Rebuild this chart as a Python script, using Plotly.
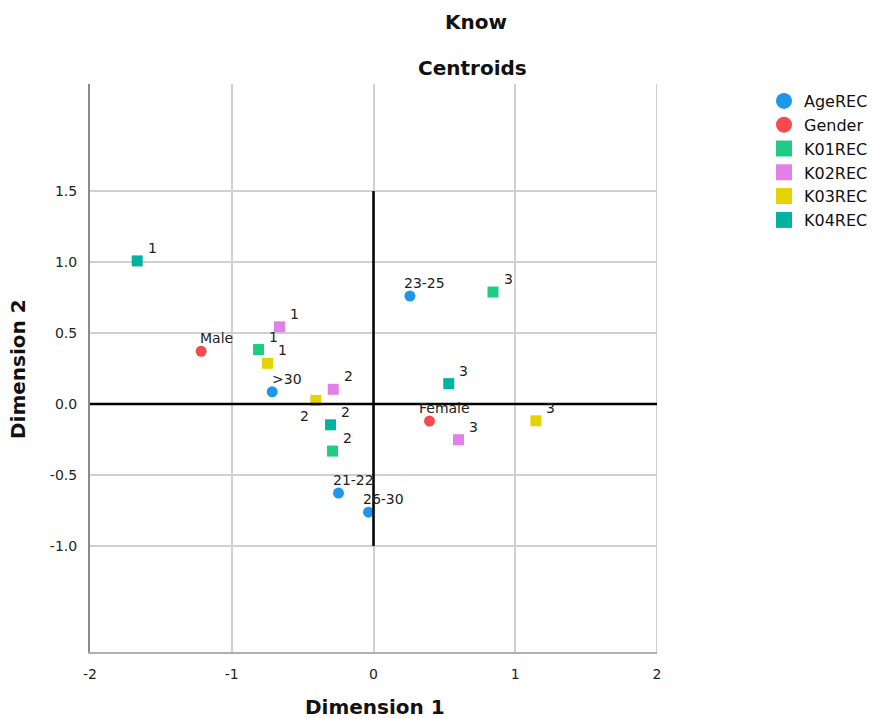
import plotly.graph_objects as go

# ---- data (centroid coordinates) ----
age_labels = [">30", "23-25", "21-22", "26-30"]
age_x = [-0.715, 0.257, -0.247, -0.035]
age_y = [0.086, 0.761, -0.627, -0.761]

gender_labels = ["Male", "Female"]
gender_x = [-1.216, 0.395]
gender_y = [0.372, -0.120]

k01_labels = ["1", "2", "3"]
k01_x = [-0.811, -0.289, 0.843]
k01_y = [0.384, -0.331, 0.789]

k02_labels = ["1", "2", "3"]
k02_x = [-0.663, -0.284, 0.600]
k02_y = [0.544, 0.104, -0.251]

k03_labels = ["1", "2", "3"]
k03_x = [-0.748, -0.407, 1.146]
k03_y = [0.287, 0.026, -0.118]

k04_labels = ["1", "2", "3"]
k04_x = [-1.667, -0.303, 0.531]
k04_y = [1.008, -0.146, 0.144]

x_ticks = [-2, -1, 0, 1, 2]
y_ticks = [-1.0, -0.5, 0.0, 0.5, 1.0, 1.5]

# ---- styling ----
series = [
    ("AgeREC", age_x, age_y, age_labels, "circle", "#1e96ea"),
    ("Gender", gender_x, gender_y, gender_labels, "circle", "#f74a4c"),
    ("K01REC", k01_x, k01_y, k01_labels, "square", "#20cb84"),
    ("K02REC", k02_x, k02_y, k02_labels, "square", "#e280e6"),
    ("K03REC", k03_x, k03_y, k03_labels, "square", "#e5d200"),
    ("K04REC", k04_x, k04_y, k04_labels, "square", "#00b3a1"),
]

FONT = "DejaVu Sans"

fig = go.Figure()
annotations = []
for name, xs, ys, labels, sym, col in series:
    fig.add_trace(go.Scatter(
        x=xs, y=ys, mode="markers", name=name, showlegend=False,
        marker=dict(symbol=sym, size=11, color=col, line=dict(width=0)),
        hoverinfo="text", text=labels,
    ))
    # legend-only entry with larger symbol
    fig.add_trace(go.Scatter(
        x=[None], y=[None], mode="markers", name=name, showlegend=True,
        marker=dict(symbol=sym, size=18 if sym == "circle" else 16, color=col),
    ))
    for xv, yv, lab in zip(xs, ys, labels):
        # default label offset: upper right of the point
        xs_, ys_ = 15, 13
        if name == "K03REC" and lab == "2":
            xs_, ys_ = -11, -16
        annotations.append(dict(
            x=xv, y=yv, xref="x", yref="y", text=lab, showarrow=False,
            xshift=xs_, yshift=ys_, xanchor="center", yanchor="middle",
            font=dict(family=FONT, size=14, color="#222222"),
        ))

# titles
annotations += [
    dict(text="<b>Know</b>", x=(476 - 90) / 567, y=1, xref="paper", yref="paper",
         yshift=62, showarrow=False, xanchor="center", yanchor="middle",
         font=dict(family=FONT, size=20, color="#111111")),
    dict(text="<b>Centroids</b>", x=(472 - 90) / 567, y=1, xref="paper", yref="paper",
         yshift=16, showarrow=False, xanchor="center", yanchor="middle",
         font=dict(family=FONT, size=20, color="#111111")),
    dict(text="<b>Dimension 1</b>", x=(375 - 90) / 567, y=0, xref="paper", yref="paper",
         yshift=-55, showarrow=False, xanchor="center", yanchor="middle",
         font=dict(family=FONT, size=20, color="#111111")),
    dict(text="<b>Dimension 2</b>", x=(18 - 90) / 567, y=(652 - 369) / 568, xref="paper",
         yref="paper", showarrow=False, xanchor="center", yanchor="middle", textangle=-90,
         font=dict(family=FONT, size=20, color="#111111")),
]

shapes = [
    # right border (gridline at x=2)
    dict(type="line", xref="x", yref="paper", x0=2, x1=2, y0=0, y1=1,
         line=dict(color="#d0d0d0", width=2), layer="below"),
    # reference lines
    dict(type="line", xref="x", yref="y", x0=-2, x1=2, y0=0, y1=0,
         line=dict(color="black", width=2.5)),
    dict(type="line", xref="x", yref="y", x0=0, x1=0, y0=-1.0, y1=1.5,
         line=dict(color="black", width=2.5)),
]

fig.update_layout(
    width=872, height=718,
    margin=dict(l=90, r=215, t=84, b=66, autoexpand=False),
    paper_bgcolor="white", plot_bgcolor="white",
    showlegend=True,
    legend=dict(xref="container", yref="container", x=764 / 872, y=1 - 84 / 718,
                xanchor="left", yanchor="top",
                font=dict(family=FONT, size=16, color="#111111"),
                itemsizing="trace", tracegroupgap=0, bgcolor="rgba(0,0,0,0)"),
    annotations=annotations,
    shapes=shapes,
    font=dict(family=FONT),
)
fig.update_xaxes(
    range=[-2, 2], tickvals=x_ticks, ticktext=[str(v) for v in x_ticks],
    showgrid=True, gridcolor="#d0d0d0", gridwidth=2, zeroline=False,
    showline=True, linecolor="#b0b0b0", linewidth=2,
    ticks="", ticklabelstandoff=8,
    tickfont=dict(family=FONT, size=14, color="#222222"),
)
fig.update_yaxes(
    range=[-1.746, 2.254], tickvals=y_ticks, ticktext=[f"{v:.1f}" for v in y_ticks],
    showgrid=True, gridcolor="#d0d0d0", gridwidth=2, zeroline=False,
    showline=True, linecolor="#8a8a8a", linewidth=2,
    ticks="", ticklabelstandoff=8,
    tickfont=dict(family=FONT, size=14, color="#222222"),
)

fig.write_html("out.html")
